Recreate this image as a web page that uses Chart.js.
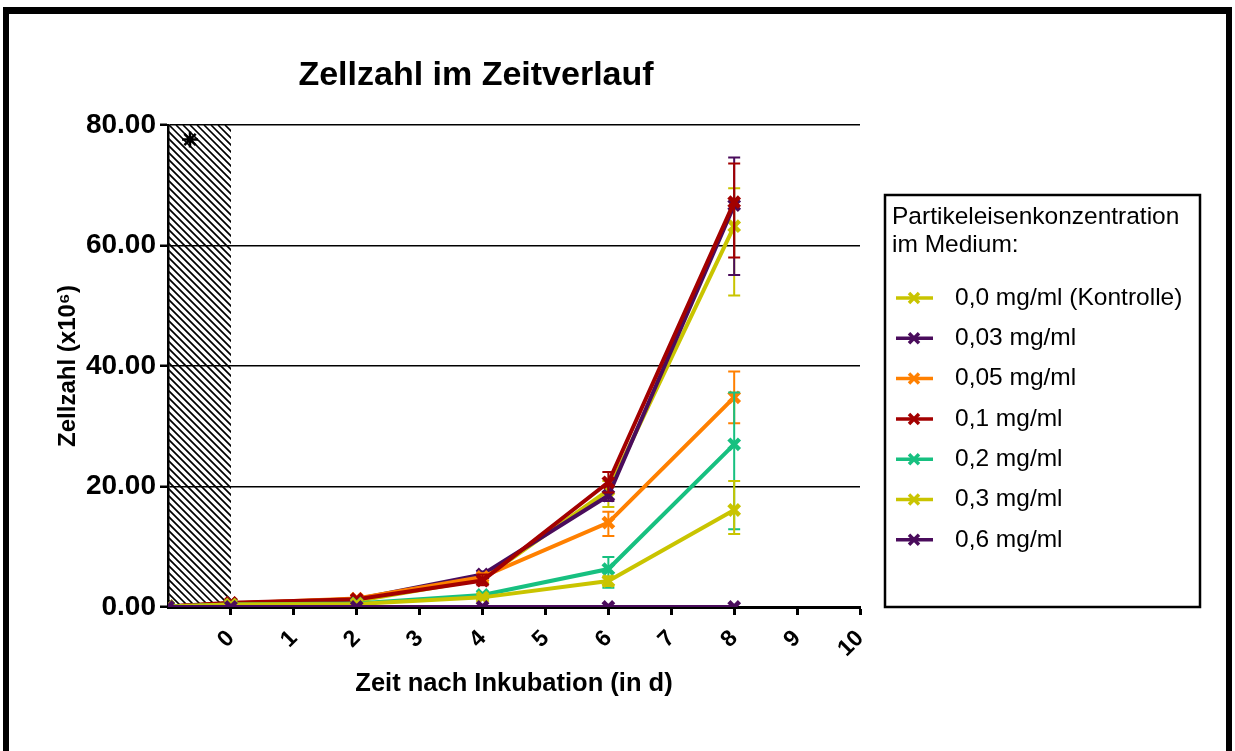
<!DOCTYPE html>
<html>
<head>
<meta charset="utf-8">
<title>Zellzahl im Zeitverlauf</title>
<script src="https://cdn.jsdelivr.net/npm/chart.js@4.4.1/dist/chart.umd.min.js"></script>
<style>
  html, body { margin: 0; padding: 0; background: #fff; }
</style>
</head>
<body>
<canvas id="myChart" width="1235" height="751"></canvas>
<script>
// Zellzahl (x10^6) nach Tagen, je Partikeleisenkonzentration

const days = [-1, 0, 2, 4, 6, 8];
const xTicks = [0, 1, 2, 3, 4, 5, 6, 7, 8, 9, 10];
const hatchRange = [-1, 0];
const markX = [-0.65];
const markY = [77.6];

const seriesNames = [
    '0,0 mg/ml (Kontrolle)',
    '0,03 mg/ml',
    '0,05 mg/ml',
    '0,1 mg/ml',
    '0,2 mg/ml',
    '0,3 mg/ml',
    '0,6 mg/ml'
];
const seriesColors = ['#c9c400', '#4a0c5c', '#ff8000', '#a30000', '#17c080', '#c9c400', '#4a0c5c'];

const kontrolle      = [0.1, 0.6, 1.0, 4.6, 19.4, 63.2];
const kontrolleUp    = [0, 0, 0.2, 0.5, 1.5, 6.3];
const kontrolleDown  = [0, 0, 0.2, 0.5, 2.8, 11.5];

const c003     = [0.1, 0.6, 1.3, 5.4, 18.5, 66.7];
const c003Up   = [0, 0, 0.2, 0.5, 1.5, 7.9];
const c003Down = [0, 0, 0.2, 0.5, 0.9, 11.6];

const c005     = [0.1, 0.6, 1.4, 5.0, 14.0, 34.8];
const c005Up   = [0, 0, 0.2, 0.6, 1.8, 4.3];
const c005Down = [0, 0, 0.2, 0.6, 2.2, 4.3];

const c01      = [0.1, 0.7, 1.3, 4.4, 20.7, 67.2];
const c01Up    = [0, 0, 0.2, 1.0, 1.7, 6.4];
const c01Down  = [0, 0, 0.2, 0.8, 1.7, 9.2];

const c02      = [0.1, 0.4, 0.6, 2.0, 6.3, 27.0];
const c02Up    = [0, 0, 0.1, 0.3, 2.0, 8.6];
const c02Down  = [0, 0, 0.1, 0.3, 3.1, 14.1];

const c03      = [0.1, 0.4, 0.5, 1.6, 4.3, 16.1];
const c03Up    = [0, 0, 0.1, 0.3, 0.8, 4.8];
const c03Down  = [0, 0, 0.1, 0.3, 0.8, 4.0];

const c06      = [0, 0, 0, 0, 0, 0];
const c06Up    = [0, 0, 0, 0, 0, 0];
const c06Down  = [0, 0, 0, 0, 0, 0];

const allValues = [kontrolle, c003, c005, c01, c02, c03, c06];
const allUp = [kontrolleUp, c003Up, c005Up, c01Up, c02Up, c03Up, c06Up];
const allDown = [kontrolleDown, c003Down, c005Down, c01Down, c02Down, c03Down, c06Down];

const FONT = '"Liberation Sans", Arial, Helvetica, sans-serif';

const datasets = allValues.map((vals, i) => ({
    label: seriesNames[i],
    data: vals.map((v, k) => ({ x: days[k], y: v })),
    borderColor: seriesColors[i],
    backgroundColor: seriesColors[i],
    borderWidth: 4,
    pointStyle: 'crossRot',
    pointRadius: 7.5,
    pointBorderWidth: 4.5,
    errUp: allUp[i],
    errDown: allDown[i],
    order: 20 - i,
    inLegend: true
}));

// das Sternchen oben links im schraffierten Bereich
datasets.push({
    label: '*',
    data: markX.map((x, k) => ({ x: x, y: markY[k] })),
    showLine: false,
    borderColor: '#000',
    backgroundColor: '#000',
    pointStyle: 'star',
    pointRadius: 8,
    pointBorderWidth: 2.5,
    order: 0,
    inLegend: false
});

const framePlugin = {
    id: 'frame',
    beforeDraw(chart) {
        const ctx = chart.ctx;
        ctx.save();
        ctx.fillStyle = '#fff';
        ctx.fillRect(0, 0, chart.width, chart.height);
        ctx.fillStyle = '#000';
        ctx.fillRect(3, 7, 1229, 7);
        ctx.fillRect(3, 7, 6, chart.height);
        ctx.fillRect(1226, 7, 6, chart.height);
        ctx.restore();
    }
};

const hatchPlugin = {
    id: 'hatch',
    beforeDatasetsDraw(chart) {
        const ctx = chart.ctx;
        const area = chart.chartArea;
        const x0 = chart.scales.x.getPixelForValue(hatchRange[0]);
        const x1 = chart.scales.x.getPixelForValue(hatchRange[1]);
        const h = area.bottom - area.top;
        ctx.save();
        ctx.beginPath();
        ctx.rect(x0, area.top, x1 - x0, h);
        ctx.clip();
        ctx.strokeStyle = '#000';
        ctx.lineWidth = 1.6;
        ctx.beginPath();
        for (let k = -h; k < x1 - x0; k += 7) {
            ctx.moveTo(x0 + k, area.top);
            ctx.lineTo(x0 + k + h, area.bottom);
        }
        ctx.stroke();
        ctx.restore();
    }
};

const errorBarPlugin = {
    id: 'errorBars',
    afterDatasetDraw(chart, args) {
        const ds = chart.data.datasets[args.index];
        if (!ds.errUp) return;
        const yScale = chart.scales.y;
        const ctx = chart.ctx;
        ctx.save();
        ctx.strokeStyle = ds.borderColor;
        ctx.lineWidth = 2;
        args.meta.data.forEach((pt, i) => {
            const up = ds.errUp[i], down = ds.errDown[i];
            if (!up && !down) return;
            const v = ds.data[i].y;
            const yTop = yScale.getPixelForValue(v + up);
            const yBot = yScale.getPixelForValue(v - down);
            ctx.beginPath();
            ctx.moveTo(pt.x, yTop);
            ctx.lineTo(pt.x, yBot);
            ctx.moveTo(pt.x - 6, yTop);
            ctx.lineTo(pt.x + 6, yTop);
            ctx.moveTo(pt.x - 6, yBot);
            ctx.lineTo(pt.x + 6, yBot);
            ctx.stroke();
        });
        ctx.restore();
    }
};

const titleLegendPlugin = {
    id: 'titleLegend',
    afterDraw(chart) {
        const ctx = chart.ctx;
        ctx.save();
        // Titel
        ctx.fillStyle = '#000';
        ctx.font = 'bold 34px ' + FONT;
        ctx.textAlign = 'center';
        ctx.textBaseline = 'middle';
        ctx.fillText('Zellzahl im Zeitverlauf', 476, 76);

        // Legende
        const bx = 885, by = 195, bw = 315, bh = 412;
        ctx.lineWidth = 2.5;
        ctx.strokeStyle = '#000';
        ctx.strokeRect(bx, by, bw, bh);
        ctx.font = '24.5px ' + FONT;
        ctx.textAlign = 'left';
        ctx.fillText('Partikeleisenkonzentration', 892, 217);
        ctx.fillText('im Medium:', 892, 245);

        const items = chart.data.datasets.filter(d => d.inLegend);
        items.forEach((ds, i) => {
            const yy = 298 + i * 40.3;
            ctx.strokeStyle = ds.borderColor;
            ctx.lineWidth = 3.5;
            ctx.beginPath();
            ctx.moveTo(896, yy);
            ctx.lineTo(933, yy);
            ctx.stroke();
            ctx.lineWidth = 3.5;
            ctx.beginPath();
            ctx.moveTo(909, yy - 5);
            ctx.lineTo(919, yy + 5);
            ctx.moveTo(919, yy - 5);
            ctx.lineTo(909, yy + 5);
            ctx.stroke();
            ctx.fillStyle = '#000';
            ctx.fillText(ds.label, 955, yy);
        });
        ctx.restore();
    }
};

const ctx = document.getElementById('myChart').getContext('2d');
new Chart(ctx, {
    type: 'line',
    data: { datasets: datasets },
    options: {
        responsive: false,
        animation: false,
        devicePixelRatio: 1,
        layout: { padding: { left: 50, right: 375, top: 125, bottom: 48 } },
        plugins: {
            legend: { display: false },
            tooltip: { enabled: false },
            title: { display: false }
        },
        scales: {
            x: {
                type: 'linear',
                min: -1,
                max: 10,
                afterBuildTicks: (scale) => {
                    scale.ticks = xTicks.map(v => ({ value: v }));
                },
                afterFit: (scale) => { scale.height = 96; },
                ticks: {
                    color: '#000',
                    font: { family: FONT, size: 23, weight: 'bold' },
                    minRotation: 45,
                    maxRotation: 45,
                    padding: 10
                },
                grid: {
                    drawOnChartArea: false,
                    drawTicks: true,
                    tickLength: 8,
                    tickWidth: 3,
                    tickColor: '#000'
                },
                border: { display: true, color: '#000', width: 3 },
                title: {
                    display: true,
                    text: 'Zeit nach Inkubation (in d)',
                    color: '#000',
                    font: { family: FONT, size: 25.5, weight: 'bold' },
                    padding: { top: 4, bottom: 4 }
                }
            },
            y: {
                min: 0,
                max: 80,
                afterFit: (scale) => { scale.width = 118; },
                ticks: {
                    stepSize: 20,
                    color: '#000',
                    font: { family: FONT, size: 28, weight: 'bold' },
                    padding: 4,
                    callback: (v) => v.toFixed(2)
                },
                grid: {
                    color: '#000',
                    lineWidth: 1.5,
                    tickLength: 8,
                    tickWidth: 2.5,
                    tickColor: '#000'
                },
                border: { display: true, color: '#000', width: 2.5 },
                title: {
                    display: true,
                    text: 'Zellzahl (x10⁶)',
                    color: '#000',
                    font: { family: FONT, size: 24, weight: 'bold' },
                    padding: { top: 4, bottom: 4 }
                }
            }
        }
    },
    plugins: [framePlugin, hatchPlugin, errorBarPlugin, titleLegendPlugin]
});
</script>
</body>
</html>
